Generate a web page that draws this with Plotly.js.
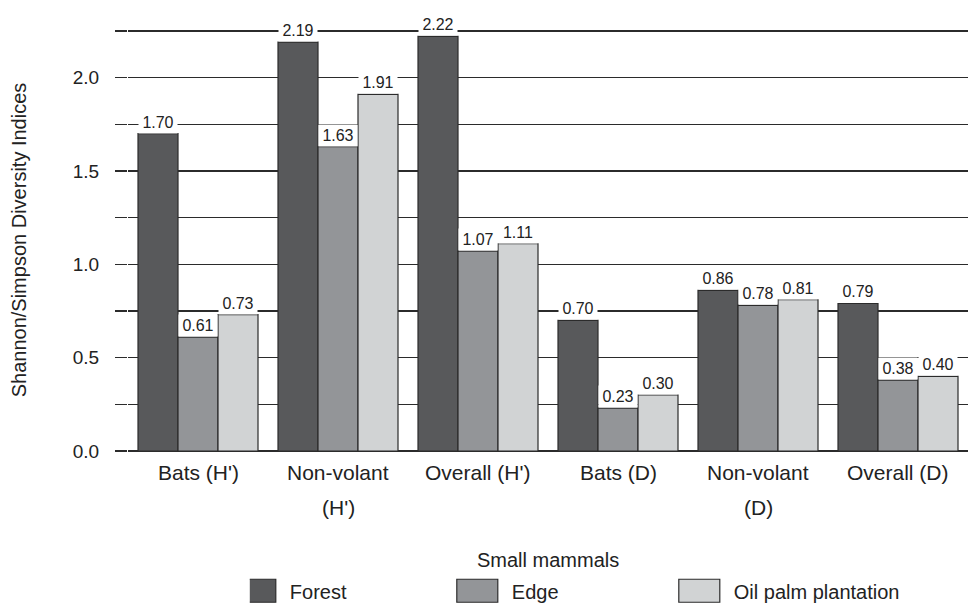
<!DOCTYPE html>
<html>
<head>
<meta charset="utf-8">
<script src="https://cdn.plot.ly/plotly-3.0.1.min.js"></script>
<style>html,body{margin:0;padding:0;background:#fff;}#chart{width:972px;height:605px;}</style>
</head>
<body>
<div id="chart"></div>
<script>
// ---- data ----
const categories = ["Bats (H')", "Non-volant (H')", "Overall (H')", "Bats (D)", "Non-volant (D)", "Overall (D)"];
const labelLine1 = ["Bats (H')", "Non-volant", "Overall (H')", "Bats (D)", "Non-volant", "Overall (D)"];
const labelLine2 = ["", "(H')", "", "", "(D)", ""];
const seriesNames = ["Forest", "Edge", "Oil palm plantation"];
const forest = [1.70, 2.19, 2.22, 0.70, 0.86, 0.79];
const edge = [0.61, 1.63, 1.07, 0.23, 0.78, 0.38];
const oilPalm = [0.73, 1.91, 1.11, 0.30, 0.81, 0.40];
const yTickVals = [0, 0.25, 0.5, 0.75, 1.0, 1.25, 1.5, 1.75, 2.0, 2.25];
const yTickText = ["0.0", "", "0.5", "", "1.0", "", "1.5", "", "2.0", ""];
const yTitle = "Shannon/Simpson Diversity Indices";
const xTitle = "Small mammals";

// ---- styling ----
const colors = ["#58595b", "#939598", "#d1d3d4"];
const FONT = "Arial, 'Liberation Sans', Helvetica, sans-serif";
const TXT = '#222';
const margin = {l: 128, r: 4, t: 29, b: 154, autoexpand: false};
const W = 972, H = 605;
const bargap = 20 / 140;
const plotW = W - margin.l - margin.r;
const series = [forest, edge, oilPalm];
const barPx = plotW / categories.length * (1 - bargap) / series.length;

const traces = series.map((vals, i) => ({
  type: 'bar',
  name: seriesNames[i],
  x: categories,
  y: vals,
  marker: {color: colors[i], line: {color: '#2b2b2b', width: 1.2}},
  hoverinfo: 'x+y+name'
}));

const annotations = [];
series.forEach((vals, i) => {
  vals.forEach((v, j) => {
    annotations.push({
      x: categories[j], y: v, xref: 'x', yref: 'y',
      xshift: (i - (series.length - 1) / 2) * barPx,
      yanchor: 'bottom', xanchor: 'center',
      text: v.toFixed(2), showarrow: false,
      bgcolor: '#ffffff', borderpad: 0, width: barPx - 2, height: 21,
      font: {family: FONT, size: 16, color: TXT}
    });
  });
});
categories.forEach((c, j) => {
  annotations.push({x: c, y: 0, xref: 'x', yref: 'paper', yshift: -21, yanchor: 'middle',
    text: labelLine1[j], showarrow: false, font: {family: FONT, size: 21, color: TXT}});
  if (labelLine2[j]) annotations.push({x: c, y: 0, xref: 'x', yref: 'paper', yshift: -56, yanchor: 'middle',
    text: labelLine2[j], showarrow: false, font: {family: FONT, size: 21, color: TXT}});
});
annotations.push({x: 0.5, y: 0, xref: 'paper', yref: 'paper', yshift: -109, yanchor: 'middle',
  text: xTitle, showarrow: false, font: {family: FONT, size: 20, color: TXT}});

const layout = {
  width: W, height: H, margin: margin,
  paper_bgcolor: '#fff', plot_bgcolor: '#fff',
  barmode: 'group', bargap: bargap, bargroupgap: 0,
  font: {family: FONT, size: 20, color: TXT},
  showlegend: true,
  legend: {orientation: 'h', x: 0.145, xanchor: 'left', y: -0.285, yanchor: 'top',
    entrywidth: 177, entrywidthmode: 'pixels', font: {family: FONT, size: 20, color: TXT},
    traceorder: 'normal'},
  xaxis: {type: 'category', showticklabels: false, ticks: '', showline: false, showgrid: false,
    zeroline: false, range: [-0.5, categories.length - 0.5], fixedrange: true},
  yaxis: {range: [0, 2.26], tickmode: 'array', tickvals: yTickVals, ticktext: yTickText,
    ticks: 'outside', ticklen: 12, tickwidth: 1.3, tickcolor: '#2b2b2b',
    ticklabelstandoff: 12,
    showgrid: true, gridcolor: '#2b2b2b', gridwidth: 1.3,
    zeroline: true, zerolinecolor: '#2b2b2b', zerolinewidth: 1.3,
    showline: false, tickfont: {family: FONT, size: 19, color: TXT},
    title: {text: yTitle, font: {family: FONT, size: 20, color: TXT}, standoff: 40},
    fixedrange: true},
  annotations: annotations
};

Plotly.newPlot('chart', traces, layout, {displayModeBar: false, staticPlot: true}).then(() => {
  document.querySelectorAll('#chart .legendpoints path').forEach(p => {
    p.setAttribute('d', 'M6,11.5H-35V-11.5H6Z');
    p.style.strokeWidth = '1.2px';
  });
});
</script>
</body>
</html>
